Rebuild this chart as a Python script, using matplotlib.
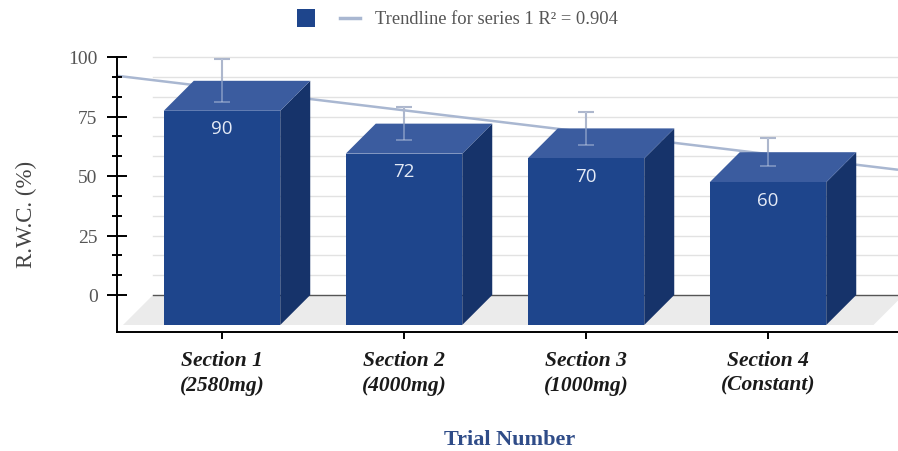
import numpy as np
import matplotlib
matplotlib.use("Agg")
import matplotlib.pyplot as plt
from matplotlib.patches import Polygon, Rectangle
from matplotlib.lines import Line2D
from matplotlib.ticker import FixedLocator

# ---- data ----
categories = ["Section 1\n(2580mg)", "Section 2\n(4000mg)",
              "Section 3\n(1000mg)", "Section 4\n(Constant)"]
rwc = [90, 72, 70, 60]
rwc_err = [9, 7, 7, 6]
y_ticks = [0, 25, 50, 75, 100]

# ---- figure geometry (pixels) ----
W, H, DPI = 898, 452, 100
ax_left, ax_right, ax_top, ax_bottom = 117, 898, 50, 333
y0_px, px_per_unit = 296, 2.38          # pixel row of value 0, scale
x0_px, px_per_cat = 222, 182            # pixel column of first bar, spacing

ylim = ((y0_px - ax_bottom) / px_per_unit, (y0_px - ax_top) / px_per_unit)
xlim = ((ax_left - x0_px) / px_per_cat, (ax_right - x0_px) / px_per_cat)

DX = 30 / px_per_cat      # depth offset in category units
DY = 30 / px_per_unit     # depth offset in value units
half_w = 0.32

front_c = "#1e458c"
top_c = "#3b5c9f"
side_c = "#16336a"

fig = plt.figure(figsize=(W / DPI, H / DPI), dpi=DPI)
ax = fig.add_axes([ax_left / W, 1 - ax_bottom / H,
                   (ax_right - ax_left) / W, (ax_bottom - ax_top) / H])
ax.set_xlim(*xlim)
ax.set_ylim(*ylim)

x = np.arange(len(rwc))
back_left = xlim[0] + (153 - ax_left) / px_per_cat

# floor
floor = Polygon([(back_left, 0), (xlim[1] + 0.03, 0),
                 (xlim[1] + 0.03 - DX, -DY), (back_left - DX, -DY)],
                closed=True, facecolor="#ebebeb", edgecolor="none", zorder=0.5)
ax.add_patch(floor)

# back-wall gridlines
grid_vals = np.arange(0, 100.01, 100 / 12)
for gv in grid_vals[1:]:
    ax.plot([back_left, xlim[1]], [gv, gv], color="#e2e2e2", lw=1.0, zorder=0.6)
ax.plot([back_left, xlim[1]], [0, 0], color="#555555", lw=1.0, zorder=0.7)

# trendline (least squares on the bar values)
slope, intercept = np.polyfit(x, rwc, 1)
pred = slope * x + intercept
r2 = 1 - np.sum((np.array(rwc) - pred) ** 2) / np.sum((np.array(rwc) - np.mean(rwc)) ** 2)
tx = np.array(xlim)
ax.plot(tx, slope * tx + intercept, color="#a9b7d1", lw=1.8, zorder=1,
        solid_capstyle="butt")

# error bars behind bars
ax.errorbar(x, rwc, yerr=rwc_err, fmt="none", ecolor="#9aa5bb", elinewidth=1.5,
            capsize=6, capthick=1.5, zorder=1.5)

# 3D bars
for xi, v in zip(x, rwc):
    l, r = xi - half_w, xi + half_w
    ax.add_patch(Polygon([(r, -DY), (r + DX, 0), (r + DX, v), (r, v - DY)],
                         closed=True, facecolor=side_c, edgecolor="none", zorder=2))
    ax.add_patch(Polygon([(l, v - DY), (r, v - DY), (r + DX, v), (l + DX, v)],
                         closed=True, facecolor=top_c, edgecolor="none", zorder=2))
    ax.add_patch(Rectangle((l, -DY), r - l, v, facecolor=front_c,
                           edgecolor="none", zorder=2.1))
    ax.annotate(f"{v}", (xi, v - DY), xytext=(0, -6), textcoords="offset points",
                ha="center", va="top", color="#e4eaf6", fontsize=13.5,
                family="Open Sans", zorder=3)

# faint part of error bars showing over the bar tops
ax.errorbar(x, rwc, yerr=rwc_err, fmt="none", ecolor="#c9d3e8", elinewidth=1.3,
            capsize=6, capthick=1.3, alpha=0.45, zorder=2.5)

# axes styling
for s in ["top", "right"]:
    ax.spines[s].set_visible(False)
ax.spines["left"].set_bounds(ylim[0], 100)
ax.spines["left"].set_linewidth(1.4)
ax.spines["bottom"].set_linewidth(1.4)
ax.spines["left"].set_zorder(4)
ax.spines["bottom"].set_zorder(4)

ax.yaxis.set_major_locator(FixedLocator(y_ticks))
ax.yaxis.set_minor_locator(FixedLocator([g for g in grid_vals if g not in y_ticks]))
ax.set_yticklabels([str(t) for t in y_ticks], family="Liberation Serif",
                   fontsize=14, color="#555555")
ax.tick_params(axis="y", which="major", direction="inout", length=14, width=1.4,
               pad=7)
ax.tick_params(axis="y", which="minor", direction="inout", length=7.5, width=1.4)

ax.set_xticks(x)
ax.set_xticklabels(categories, family="Liberation Serif", fontsize=15.5,
                   fontweight="bold", fontstyle="italic", color="#1a1a1a",
                   linespacing=1.32)
ax.tick_params(axis="x", direction="out", length=5, width=1.4, pad=8)

fig.text(26 / W, 1 - 214 / H, "R.W.C. (%)", rotation=90, ha="center", va="center",
         family="Liberation Serif", fontsize=16.5, color="#444444")
fig.text(510 / W, 1 - 440 / H, "Trial Number", ha="center", va="center",
         family="Liberation Serif", fontsize=16, fontweight="bold", color="#2f4c88")

# legend
fig.patches.append(Rectangle((297 / W, 1 - 28 / H), 18 / W, 18 / H,
                             transform=fig.transFigure, facecolor=front_c,
                             edgecolor="none"))
fig.lines.append(Line2D([340 / W, 360 / W], [1 - 19 / H, 1 - 19 / H],
                        transform=fig.transFigure, color="#a9b7d1", lw=2.5))
fig.text(375 / W, 1 - 19 / H, f"Trendline for series 1 R\u00b2 = {r2:.3f}",
         ha="left", va="center", family="Liberation Serif", fontsize=13.3,
         color="#555555")

fig.savefig("out.png", dpi=DPI, facecolor="white")
